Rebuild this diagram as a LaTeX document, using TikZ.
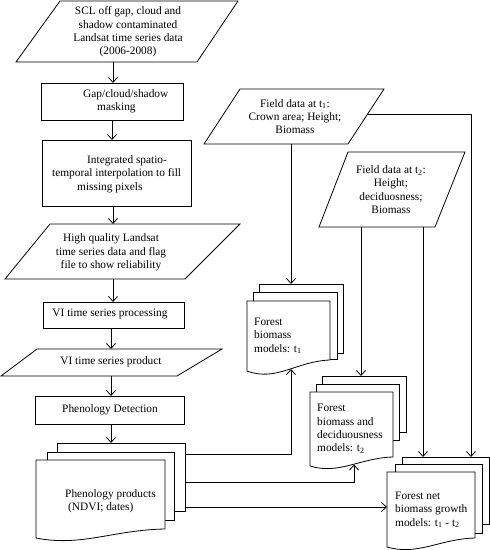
\documentclass[tikz,border=0pt]{standalone}
\usepackage{fontspec}
\setmainfont{Liberation Serif}
\usetikzlibrary{arrows.meta}
\tikzset{
  lbl/.style={font=\fontsize{11.35}{13.3}\selectfont, inner sep=0pt, align=center},
  lbll/.style={lbl, align=left, anchor=west},
  shp/.style={draw=black, line width=0.8pt, fill=white},
  conn/.style={draw=black, line width=0.8pt},
  arr/.style={conn, -{Straight Barb[length=5pt,width=9pt,line width=0.8pt]}}
}
\newcommand\mydocshape[5]{%
  \pgfmathsetmacro\dw{#3-#1}%
  \pgfmathsetmacro\cax{#1+0.6*\dw}%
  \pgfmathsetmacro\cay{#4+0.1*#5}%
  \pgfmathsetmacro\cbx{#1+0.35*\dw}%
  \pgfmathsetmacro\cby{#4+2.0*#5}%
  \pgfmathsetmacro\lb{#4+#5}%
  \path[shp] (#1,#2) -- (#3,#2) -- (#3,#4) .. controls (\cax,\cay) and (\cbx,\cby) .. (#1,\lb) -- cycle;
}
\begin{document}
\begin{tikzpicture}[x=1pt,y=-1pt]
\fill[white] (0,0) rectangle (490,550);
\useasboundingbox (0,0) rectangle (490,550);

% ---------- left column ----------
\path[shp] (60,1) -- (238,1) -- (197,62) -- (16,62) -- cycle;
\node[lbl] (A) at (128,32) {SCL off gap, cloud and\\shadow contaminated\\Landsat time series data\\(2006-2008)};

\path[shp] (41,83) rectangle (183,120);
\node[lbll] (B) at (83,101.5) {Gap/cloud/shadow\\\hspace*{14pt}masking};

\path[shp] (42,140) rectangle (191,206);
\node[lbll] (C) at (52,174) {\hspace*{35pt}Integrated spatio-\\temporal interpolation to fill\\\hspace*{25pt}missing pixels};

\path[shp] (50,224) -- (240,224) -- (185,279) -- (5,279) -- cycle;
\node[lbl] (D) at (111,252.5) {High quality Landsat\\time series data and flag\\file to show reliability};

\path[shp] (43,302) rectangle (184,328);
\node[lbl] (E) at (110,314) {VI time series processing};

\path[shp] (37,349) -- (222,349) -- (177,376) -- (1,376) -- cycle;
\node[lbl] (F) at (111,362) {VI time series product};

\path[shp] (35,396) rectangle (184,424);
\node[lbl] (G) at (110,410) {Phenology Detection};

% phenology stack
\path[shp] (57,443) rectangle (185,511);
\path[shp] (47,452) rectangle (174,520);
\mydocshape{36}{460}{165}{529}{9}
\node[lbll] (H) at (65,501) {Phenology products\\\hspace*{3pt}(NDVI; dates)};

% ---------- right part ----------
\path[shp] (240,89) -- (384,89) -- (348,144) -- (204,144) -- cycle;
\node[lbl] (T1) at (295,116.5) {Field data at t\textsubscript{1}:\\Crown area; Height;\\Biomass};

\path[shp] (348,152) -- (465,152) -- (435,227) -- (319,227) -- cycle;
\node[lbl] (T2) at (391,189.5) {Field data at t\textsubscript{2}:\\Height;\\deciduosness;\\Biomass};

% forest biomass t1 stack
\path[shp] (259,284) rectangle (343,353);
\path[shp] (253,292) rectangle (337,359.5);
\mydocshape{247}{301}{330}{360}{11}
\node[lbll] (M1) at (254,336) {Forest\\biomass\\models: t\textsubscript{1}};

% forest biomass and deciduousness stack
\path[shp] (322,376) rectangle (406,432);
\path[shp] (316,384) rectangle (399,440);
\mydocshape{310}{392}{393}{457}{9}
\node[lbll] (M2) at (317,429) {Forest\\biomass and\\deciduousness\\models: t\textsubscript{2}};

% forest net biomass growth stack
\path[shp] (402,457) rectangle (489,524);
\path[shp] (395,464) rectangle (482,533);
\mydocshape{387}{472}{475}{538}{9}
\node[lbll] (M3) at (395,510) {Forest net\\biomass growth\\models: t\textsubscript{1} - t\textsubscript{2}};

% ---------- connector end points ----------
\coordinate (Aout) at (113,62);   \coordinate (Bin) at (113,83);
\coordinate (Bout) at (112,120);  \coordinate (Cin) at (112,140);
\coordinate (Cout) at (113,206);  \coordinate (Din) at (113,224);
\coordinate (Dout) at (113,279);  \coordinate (Ein) at (113,302);
\coordinate (Eout) at (111,328);  \coordinate (Fin) at (111,349);
\coordinate (Fout) at (111,376);  \coordinate (Gin) at (111,396);
\coordinate (Gout) at (111,424);  \coordinate (Hin) at (111,443);
\coordinate (Hout1) at (185,454);
\coordinate (Hout2) at (185,482);
\coordinate (Hout3) at (185,507);
\coordinate (T1out) at (291,144);
\coordinate (T1side) at (367.6,114);
\coordinate (T2outa) at (361,227);
\coordinate (T2outb) at (423,227);
\coordinate (M1top) at (291,284);
\coordinate (M1bot) at (291,369);
\coordinate (M2top) at (361,376);
\coordinate (M2bot) at (354,464.5);
\coordinate (M3topa) at (423,457);
\coordinate (M3topb) at (471,457);
\coordinate (M3left) at (387,507);

% ---------- connectors ----------
\draw[arr] (Aout) -- (Bin);
\draw[arr] (Bout) -- (Cin);
\draw[arr] (Cout) -- (Din);
\draw[arr] (Dout) -- (Ein);
\draw[arr] (Eout) -- (Fin);
\draw[arr] (Fout) -- (Gin);
\draw[arr] (Gout) -- (Hin);
\draw[arr] (T1out) -- (M1top);
\draw[arr] (T1side) -| (M3topb);
\draw[arr] (T2outa) -- (M2top);
\draw[arr] (T2outb) -- (M3topa);
\draw[arr] (Hout1) -| (M1bot);
\draw[arr] (Hout2) -| (M2bot);
\draw[arr] (Hout3) -- (M3left);
\end{tikzpicture}
\end{document}
